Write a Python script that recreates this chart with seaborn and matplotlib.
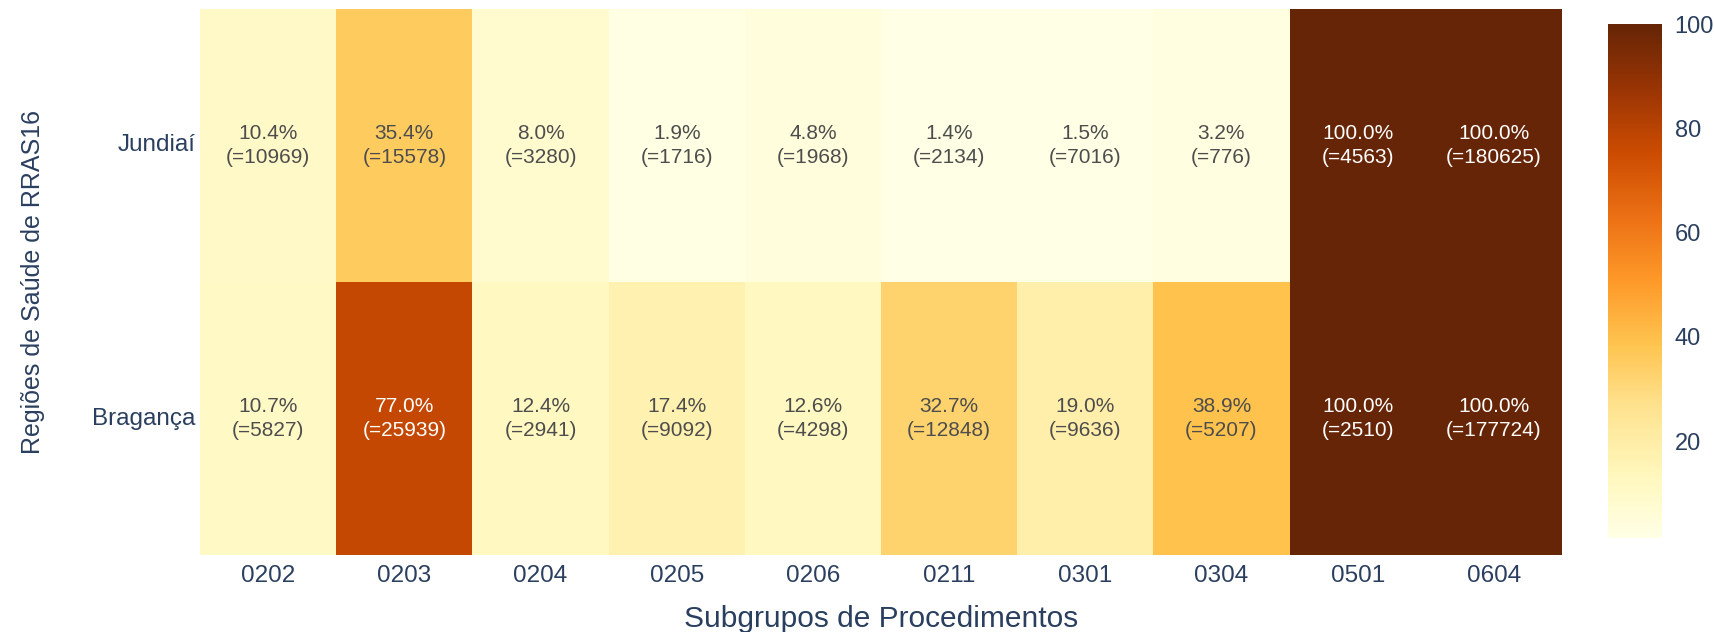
import numpy as np
import pandas as pd
import matplotlib
matplotlib.use("Agg")
import matplotlib.pyplot as plt
import seaborn as sns

# Procedure subgroups (columns) and health regions (rows)
subgrupos = ["0202", "0203", "0204", "0205", "0206", "0211", "0301", "0304", "0501", "0604"]
regioes = ["Jundiaí", "Bragança"]

# Percentage of procedures per region/subgroup
pct_jundiai = [10.4, 35.4, 8.0, 1.9, 4.8, 1.4, 1.5, 3.2, 100.0, 100.0]
pct_braganca = [10.7, 77.0, 12.4, 17.4, 12.6, 32.7, 19.0, 38.9, 100.0, 100.0]

# Absolute counts behind each percentage
n_jundiai = [10969, 15578, 3280, 1716, 1968, 2134, 7016, 776, 4563, 180625]
n_braganca = [5827, 25939, 2941, 9092, 4298, 12848, 9636, 5207, 2510, 177724]

cbar_ticks = [20, 40, 60, 80, 100]

pct = pd.DataFrame([pct_jundiai, pct_braganca], index=regioes, columns=subgrupos)
counts = pd.DataFrame([n_jundiai, n_braganca], index=regioes, columns=subgrupos)
labels = np.array([[f"{p:.1f}%\n(={n})" for p, n in zip(pr, nr)]
                   for pr, nr in zip(pct.values, counts.values)])

sns.set_theme(style="white")
plt.rcParams["font.family"] = ["Liberation Sans", "DejaVu Sans"]

axis_color = "#2a3f5f"

fig = plt.figure(figsize=(17.14, 6.32), dpi=100)
ax = fig.add_axes([0.1167, 0.1218, 0.7946, 0.864])
cax = fig.add_axes([0.9382, 0.1487, 0.0315, 0.8133])

vmin = float(np.nanmin(pct.values))
sns.heatmap(pct, ax=ax, cbar_ax=cax, cmap="YlOrBr", vmin=vmin, vmax=100,
            annot=labels, fmt="", linewidths=0,
            annot_kws={"fontsize": 15, "linespacing": 1.3})

# Light text on dark cells, grey text on light cells
for txt, val in zip(ax.texts, pct.values.ravel()):
    txt.set_color("white" if val >= 55 else "#4d4d4d")

ax.tick_params(axis="x", length=0, pad=7, labelsize=17.5, labelcolor=axis_color, rotation=0)
ax.tick_params(axis="y", length=0, pad=3, labelsize=17.5, labelcolor=axis_color, rotation=0)
ax.set_xlabel("Subgrupos de Procedimentos", fontsize=21.5, color=axis_color, labelpad=13.5)
ax.set_ylabel("Regiões de Saúde de RRAS16", fontsize=18, color=axis_color, labelpad=34)

cbar = ax.collections[0].colorbar
cbar.set_ticks(cbar_ticks)
cbar.outline.set_visible(False)
cax.tick_params(length=0, pad=9, labelsize=17, labelcolor=axis_color)

fig.savefig("out.png", dpi=100)
